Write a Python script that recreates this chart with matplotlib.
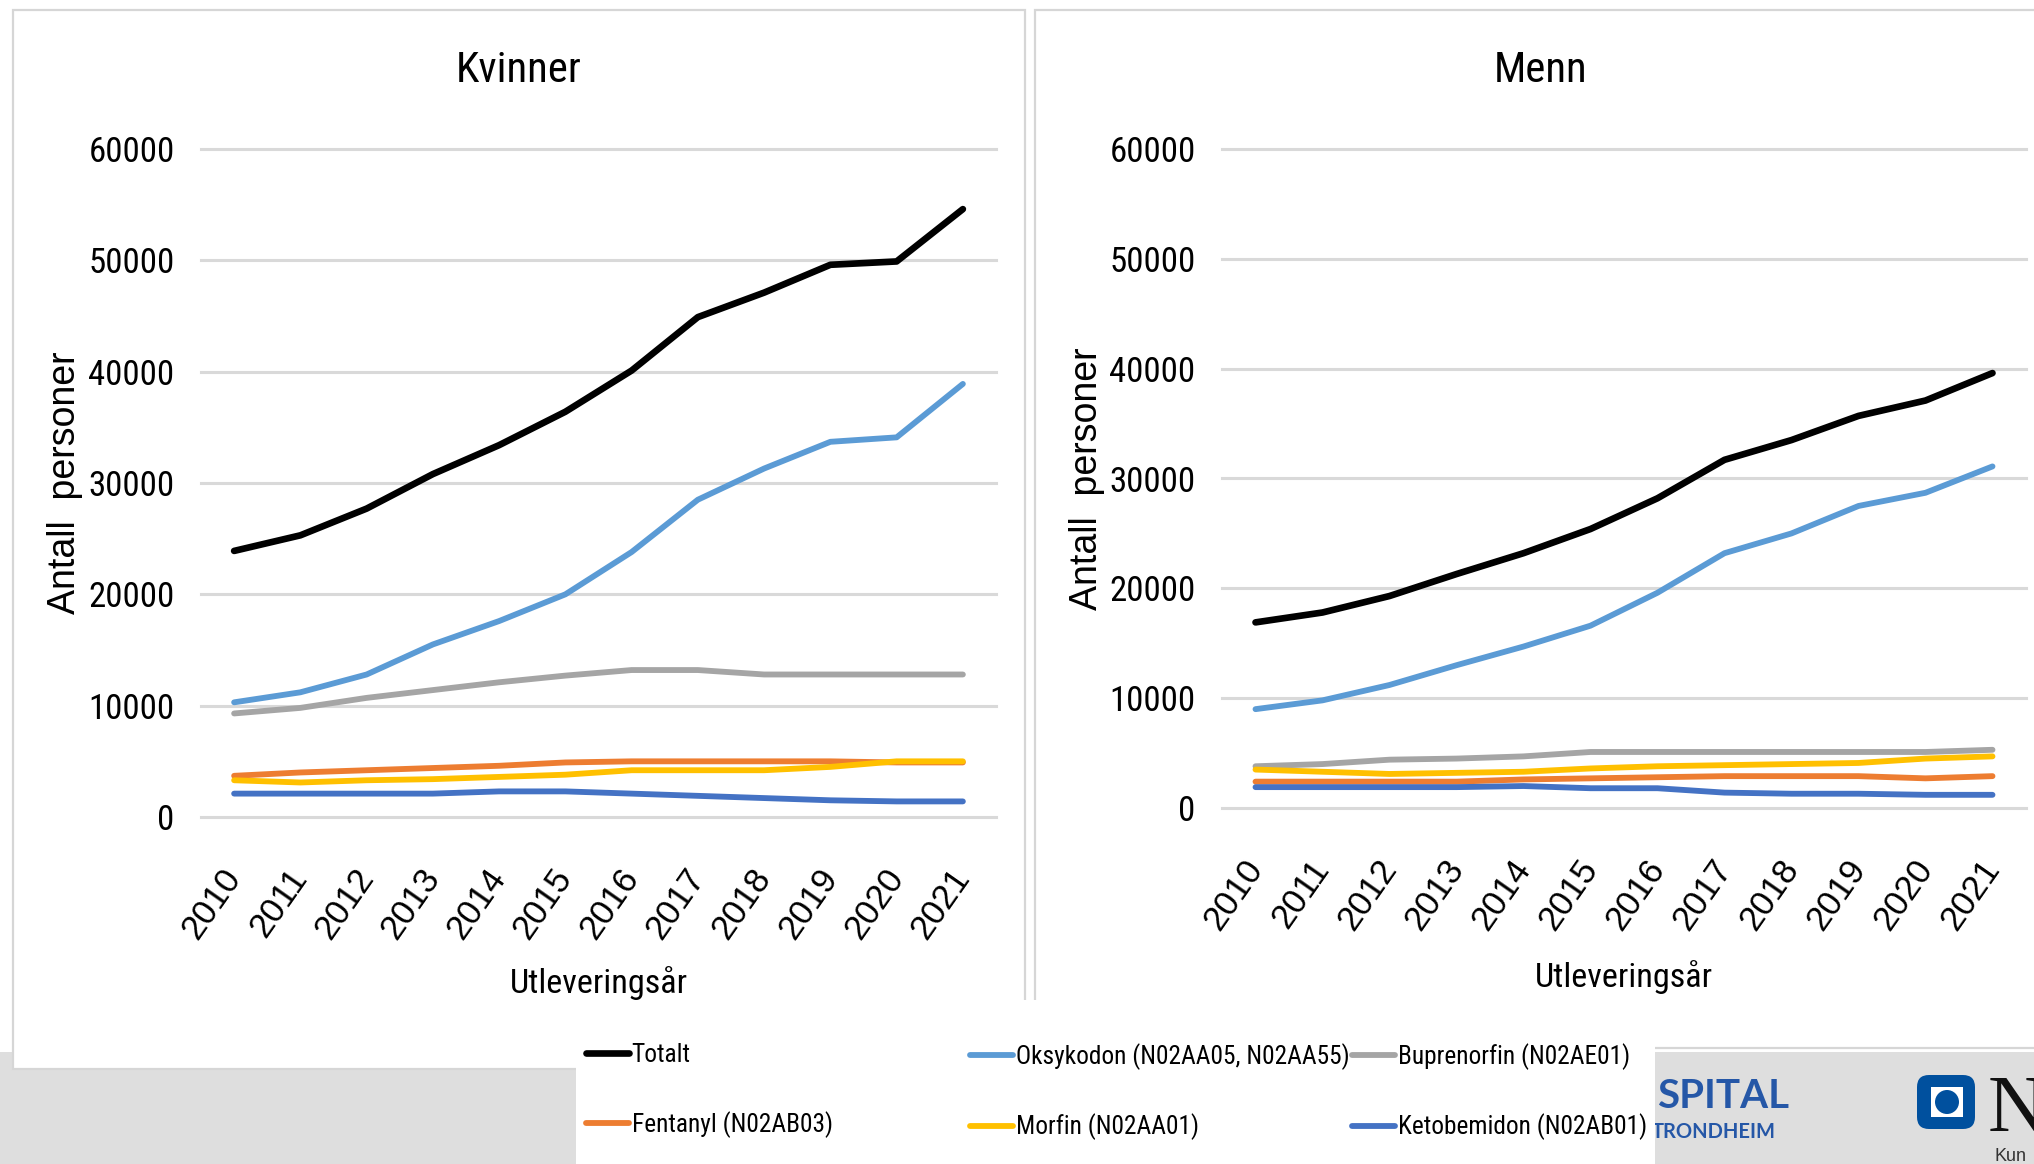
import matplotlib
matplotlib.use('Agg')
import matplotlib.pyplot as plt
from matplotlib import font_manager as fm
from matplotlib.textpath import text_to_path
from matplotlib.patches import Rectangle, FancyBboxPatch, Circle
from matplotlib.transforms import IdentityTransform

# data
years = ['2010', '2011', '2012', '2013', '2014', '2015', '2016', '2017', '2018', '2019', '2020', '2021']

series_names = ['Totalt', 'Oksykodon (N02AA05, N02AA55)', 'Buprenorfin (N02AE01)',
                'Fentanyl (N02AB03)', 'Morfin (N02AA01)', 'Ketobemidon (N02AB01)']
series_colors = ['#000000', '#5B9BD5', '#A5A5A5', '#ED7D31', '#FFC000', '#4472C4']

kvinner_totalt = [23900, 25300, 27700, 30800, 33400, 36400, 40100, 44900, 47100, 49600, 49900, 54600]
kvinner_oksykodon = [10300, 11200, 12800, 15500, 17600, 20000, 23800, 28500, 31300, 33700, 34100, 38900]
kvinner_buprenorfin = [9300, 9800, 10700, 11400, 12100, 12700, 13200, 13200, 12800, 12800, 12800, 12800]
kvinner_fentanyl = [3700, 4000, 4200, 4400, 4600, 4900, 5000, 5000, 5000, 5000, 4900, 4900]
kvinner_morfin = [3300, 3100, 3300, 3400, 3600, 3800, 4200, 4200, 4200, 4500, 5000, 5000]
kvinner_ketobemidon = [2100, 2100, 2100, 2100, 2300, 2300, 2100, 1900, 1700, 1500, 1400, 1400]

menn_totalt = [16900, 17800, 19300, 21300, 23200, 25400, 28200, 31700, 33500, 35700, 37100, 39600]
menn_oksykodon = [9000, 9800, 11200, 13000, 14700, 16600, 19600, 23200, 25000, 27500, 28700, 31100]
menn_buprenorfin = [3800, 4000, 4400, 4500, 4700, 5100, 5100, 5100, 5100, 5100, 5100, 5300]
menn_fentanyl = [2400, 2400, 2400, 2400, 2600, 2700, 2800, 2900, 2900, 2900, 2700, 2900]
menn_morfin = [3500, 3300, 3100, 3200, 3300, 3600, 3800, 3900, 4000, 4100, 4500, 4700]
menn_ketobemidon = [1900, 1900, 1900, 1900, 2000, 1800, 1800, 1400, 1300, 1300, 1200, 1200]

y_ticks = [0, 10000, 20000, 30000, 40000, 50000, 60000]

W, H = 2034, 1164
REGULAR = ['Liberation Sans', 'DejaVu Sans']

# the slide uses a narrow grotesque; take the first narrow family that is installed
installed = set(f.name for f in fm.fontManager.ttflist)
narrow_candidates = ['Liberation Sans Narrow', 'Arial Narrow', 'Roboto Condensed', 'Archivo Narrow',
                     'PT Sans Narrow', 'Pragati Narrow', 'Open Sans Condensed', 'Liberation Sans']
NARROW = [next(n for n in narrow_candidates if n in installed), 'DejaVu Sans']


def fit_size(text, family, width_px, max_size):
    # font size (pt) that makes text about width_px wide at 100 dpi
    prop = fm.FontProperties(family=family, size=10)
    w, h, d = text_to_path.get_text_width_height_descent(text, prop, ismath=False)
    return min(max_size, 10 * width_px / (w * 100 / 72))


def fx(x):
    return x / W


def fy(y):
    return 1 - y / H


def px_rect(x0, y0, x1, y1, **kw):
    return Rectangle((fx(x0), fy(y1)), (x1 - x0) / W, (y1 - y0) / H,
                     transform=fig.transFigure, **kw)


tick_size = fit_size('60000', NARROW, 86, 30)
title_size = fit_size('Kvinner', NARROW, 126, 36)
xlabel_size = fit_size('Utleveringsår', NARROW, 178, 28)
legend_size = fit_size('Oksykodon (N02AA05, N02AA55)', NARROW, 334, 26)

fig = plt.figure(figsize=(W / 100, H / 100), dpi=100)
fig.patch.set_facecolor('white')

# slide background: grey footer strip, chart panels, legend box
fig.add_artist(px_rect(0, 1052, W + 5, H + 5, facecolor='#dedede', edgecolor='none', zorder=-5))
fig.add_artist(px_rect(13, 10, 1025, 1069, facecolor='white', edgecolor='#d6d6d6', linewidth=1.6, zorder=-4))
fig.add_artist(px_rect(1035, 10, 2060, 1048, facecolor='white', edgecolor='#d6d6d6', linewidth=1.6, zorder=-4))

# partial logos in the footer
fig.text(fx(1657), fy(1097), 'SPITAL', color='#2557a7', fontsize=29, fontweight='bold',
         family=['Lato', 'DejaVu Sans'], ha='left', va='center', zorder=-3)
fig.text(fx(1652), fy(1132), 'TRONDHEIM', color='#2557a7', fontsize=14.5, fontweight='bold',
         family=['Lato', 'DejaVu Sans'], ha='left', va='center', zorder=-3)
fig.add_artist(FancyBboxPatch((1917, H - 1129), 58, 54, boxstyle='round,pad=0,rounding_size=12',
                              facecolor='#00509e', edgecolor='none', transform=IdentityTransform(), zorder=-3))
fig.add_artist(Rectangle((1931, H - 1117), 32, 30, facecolor='white', edgecolor='none',
                         transform=IdentityTransform(), zorder=-2.9))
fig.add_artist(Circle((1947, H - 1102), 12, facecolor='#00509e', edgecolor='none',
                      transform=IdentityTransform(), zorder=-2.8))
fig.text(fx(1988), fy(1131), 'N', color='#111111', fontsize=58, family=['Liberation Serif', 'DejaVu Serif'],
         ha='left', va='baseline', zorder=-3)
fig.text(fx(1994), fy(1148), 'Kun', color='#333333', fontsize=13, family=REGULAR,
         ha='left', va='top', zorder=-3)

fig.add_artist(px_rect(576, 1000, 1655, H + 5, facecolor='white', edgecolor='none', zorder=-1))

panels = [
    ('Kvinner', [kvinner_totalt, kvinner_oksykodon, kvinner_buprenorfin,
                 kvinner_fentanyl, kvinner_morfin, kvinner_ketobemidon],
     (201, 149, 996, 817), (519, 70), (-0.171, -0.2485)),
    ('Menn', [menn_totalt, menn_oksykodon, menn_buprenorfin,
              menn_fentanyl, menn_morfin, menn_ketobemidon],
     (1222, 149, 2026, 808), (1541, 71), (-0.168, -0.2565)),
]

axes = []
for title, data, (x0, y0, x1, y1), (tx, ty), (ylx, xly) in panels:
    ax = fig.add_axes([fx(x0), fy(y1), (x1 - x0) / W, (y1 - y0) / H])
    ax.set_facecolor('none')
    x = list(range(len(years)))
    for vals, name, col in zip(data, series_names, series_colors):
        lw = 4.8 if name == 'Totalt' else 4.2
        ax.plot(x, vals, color=col, linewidth=lw, label=name, solid_capstyle='round', zorder=3)

    ax.set_xlim(-0.5, len(years) - 0.5)
    ax.set_ylim(0, 60000)
    ax.set_yticks(y_ticks)
    ax.set_yticklabels([str(v) for v in y_ticks])
    ax.set_xticks(x)
    ax.set_xticklabels(years)
    ax.grid(axis='y', color='#d9d9d9', linewidth=2.2, zorder=0)
    for gl in ax.get_ygridlines():
        gl.set_clip_on(False)
    ax.set_axisbelow(True)
    for s in ax.spines.values():
        s.set_visible(False)

    ax.tick_params(axis='y', length=0, pad=19, labelsize=tick_size)
    ax.tick_params(axis='x', length=0, pad=40, labelsize=25)
    for lbl in ax.get_yticklabels():
        lbl.set_family(NARROW)
    for lbl in ax.get_xticklabels():
        lbl.set_family(REGULAR)
        lbl.set_rotation(55)
        lbl.set_ha('right')
        lbl.set_va('center')
        lbl.set_rotation_mode('anchor')

    ax.set_ylabel('Antall  personer', fontsize=27, family=REGULAR, va='center')
    ax.yaxis.set_label_coords(ylx, 0.5)
    ax.set_xlabel('Utleveringsår', fontsize=xlabel_size, family=NARROW, va='center')
    ax.xaxis.set_label_coords(0.5, xly)

    fig.text(fx(tx), fy(ty), title, fontsize=title_size, family=NARROW, ha='center', va='center')
    axes.append(ax)

# legend: three columns of equal width, two rows each
handles = axes[0].get_lines()
col_x = [586, 970, 1352]
for i, cx in enumerate(col_x):
    hs = [handles[i], handles[i + 3]]
    fig.legend(handles=hs, labels=[h.get_label() for h in hs], loc='upper left',
               bbox_to_anchor=(fx(cx), fy(1043)), bbox_transform=fig.transFigure,
               frameon=False, borderpad=0, borderaxespad=0, handlelength=43 / (legend_size * 100 / 72),
               handletextpad=0.1, labelspacing=(73 - legend_size * 1.6) / (legend_size * 100 / 72),
               prop={'family': NARROW, 'size': legend_size})

fig.savefig('out.png', dpi=100)
plt.close(fig)
